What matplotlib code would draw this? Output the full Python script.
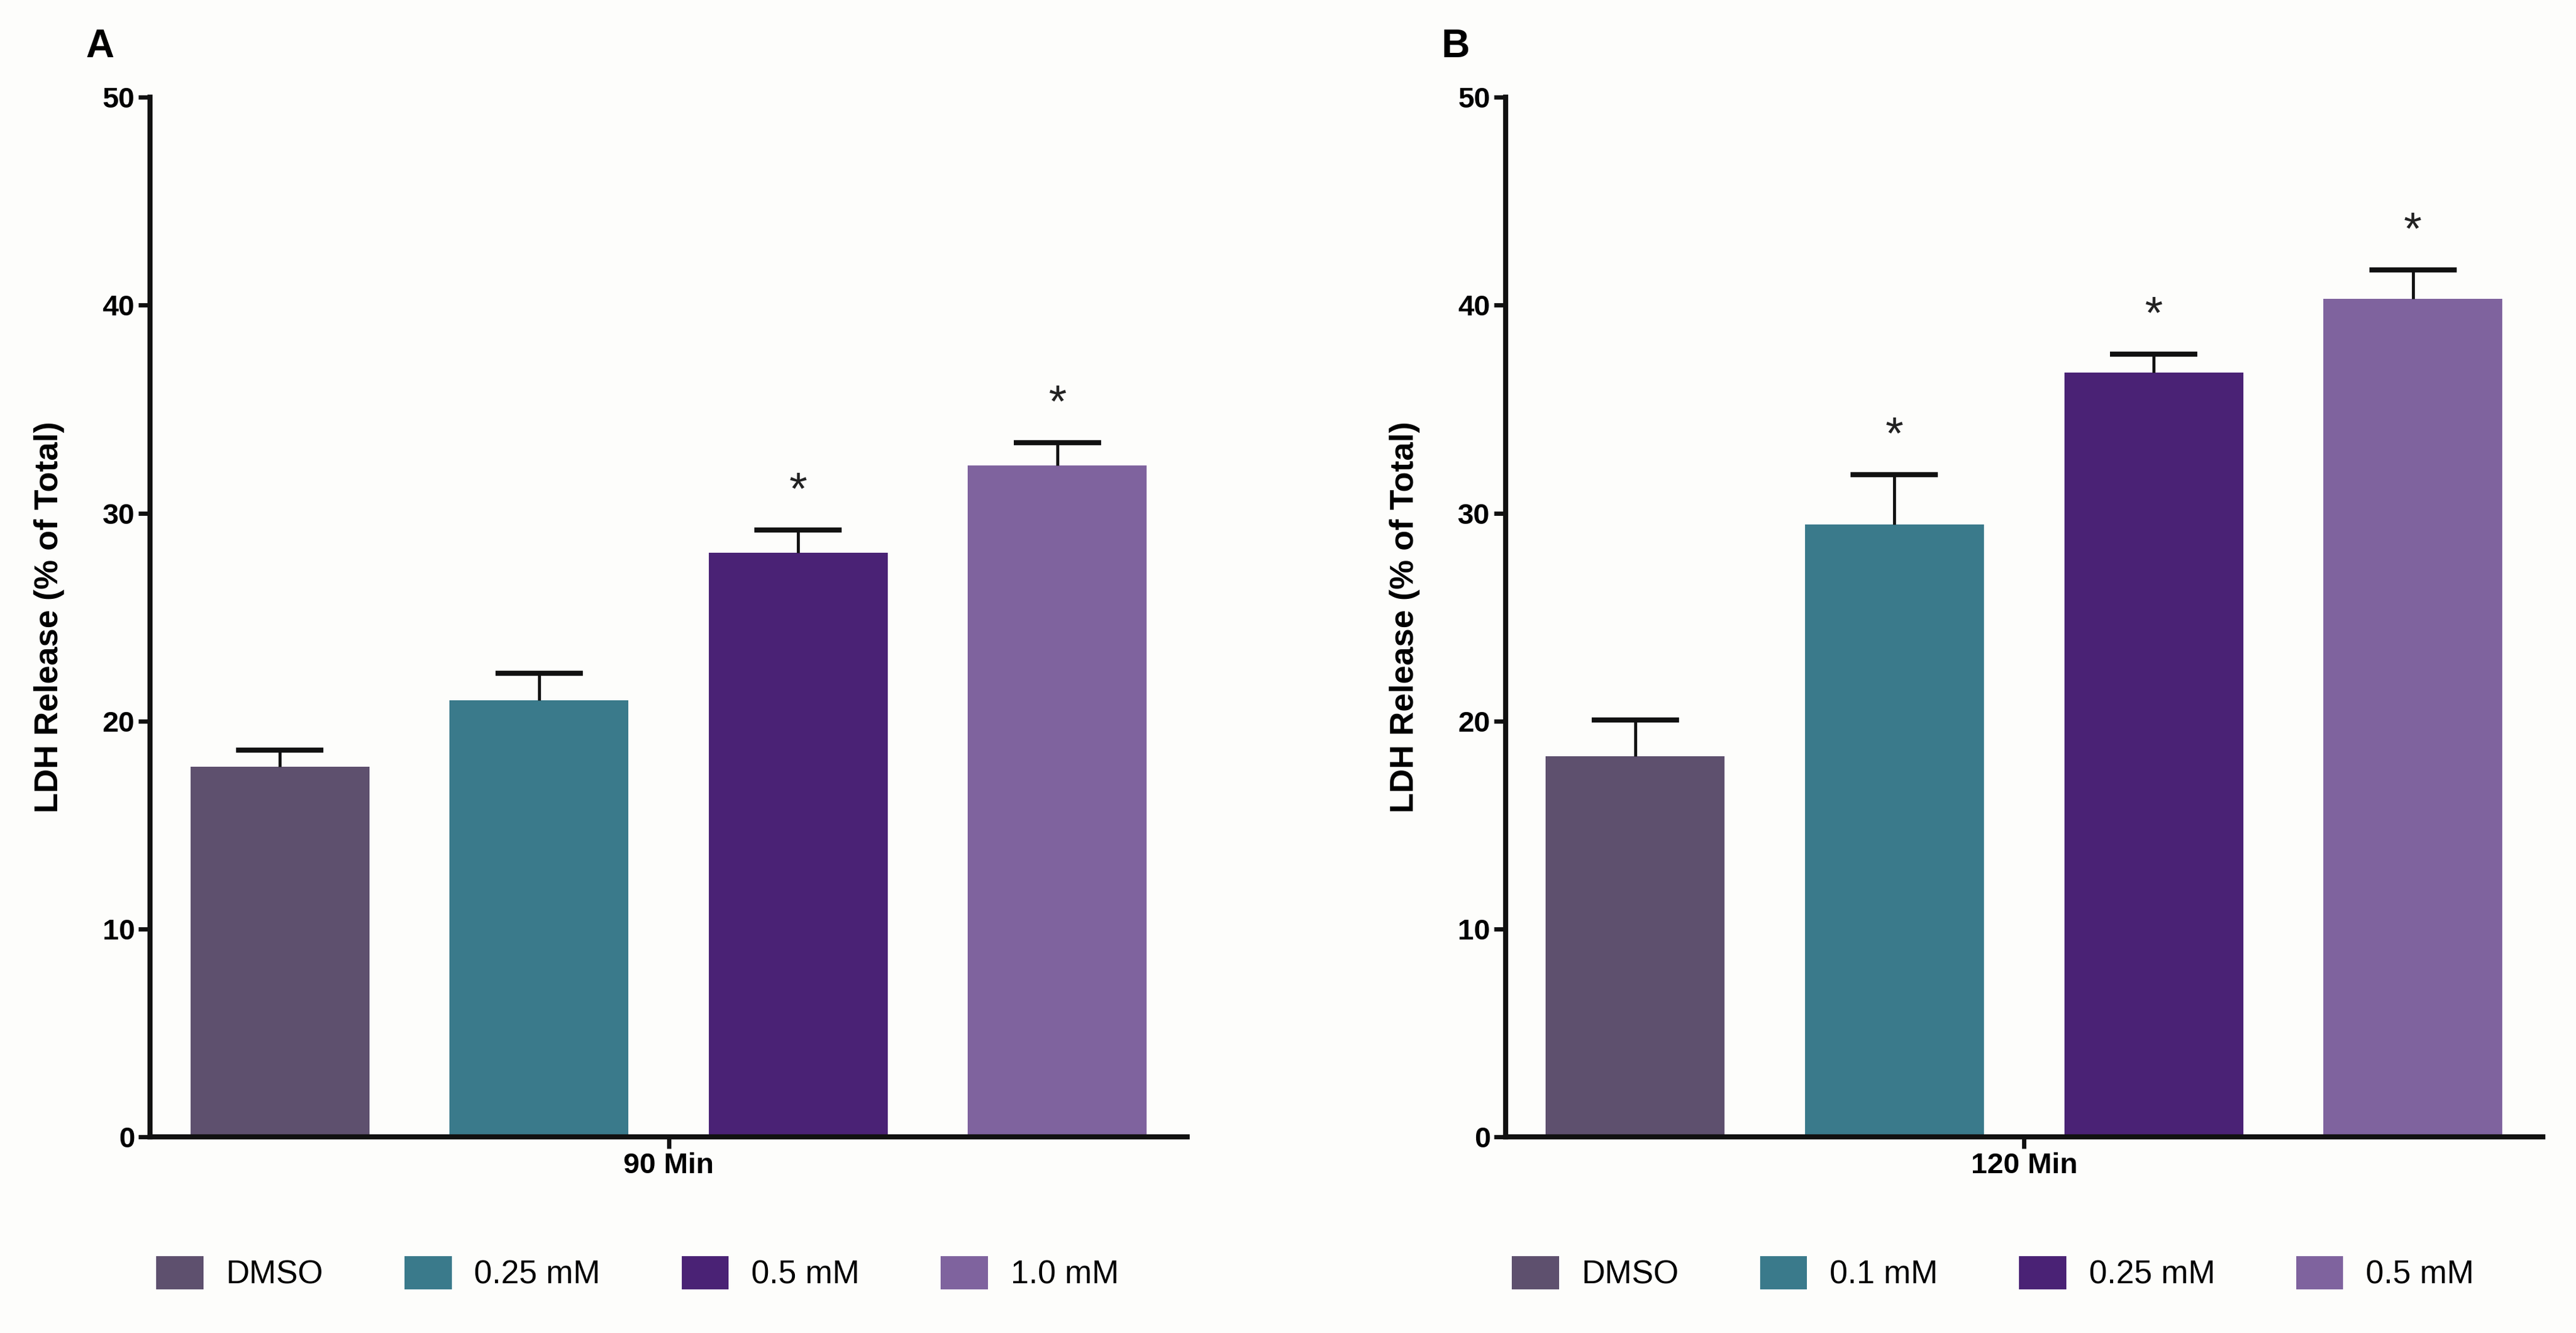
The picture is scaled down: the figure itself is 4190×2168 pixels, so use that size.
import matplotlib.pyplot as plt
import numpy as np

plt.rcParams['font.family'] = ['Liberation Sans Narrow', 'Liberation Sans', 'DejaVu Sans']

# --- Data ---
labels_a = ['DMSO', '0.25 mM', '0.5 mM', '1.0 mM']
means_a = [17.8, 21.0, 28.1, 32.3]
errs_a = [0.8, 1.3, 1.1, 1.1]
stars_a = [False, False, True, True]

labels_b = ['DMSO', '0.1 mM', '0.25 mM', '0.5 mM']
means_b = [18.3, 29.45, 36.75, 40.3]
errs_b = [1.75, 2.4, 0.9, 1.4]
stars_b = [False, True, True, True]

colors = ['#5e506e', '#3a7a8b', '#4a2275', '#7f639e']
yticks = [0, 10, 20, 30, 40, 50]

fig = plt.figure(figsize=(41.9, 21.68), dpi=100)
fig.patch.set_facecolor('#fdfdfb')


def panel(left, letter, time_label, labels, means, errs, stars):
    ax = fig.add_axes([left, 0.147, 0.4025, 0.780])
    ax.set_facecolor('#fdfdfb')
    x = np.arange(len(means))
    bars = ax.bar(x, means, width=0.69, color=colors, edgecolor='none', zorder=2)
    # upper error bars only, cap on top
    eb = ax.errorbar(x, means, yerr=[np.zeros(len(errs)), errs], fmt='none',
                     ecolor='#111111', elinewidth=3.5, capsize=51, capthick=6, zorder=3)
    caps = eb[1]
    if len(caps) > 1:
        caps[0].set_visible(False)
    for xi, m, e, s in zip(x, means, errs, stars):
        if s:
            ax.text(xi, m + e + 0.8, '*', ha='center', va='bottom',
                    fontsize=54, color='#222222')
    ax.set_xlim(-0.5, 3.5)
    ax.set_ylim(0, 50)
    ax.set_yticks(yticks)
    ax.set_xticks([1.5])
    ax.set_xticklabels([time_label])
    for side in ['top', 'right']:
        ax.spines[side].set_visible(False)
    for side in ['left', 'bottom']:
        ax.spines[side].set_linewidth(6)
        ax.spines[side].set_color('#111111')
    ax.tick_params(axis='both', direction='out', length=14, width=5,
                   labelsize=34, pad=4, color='#111111')
    for t in ax.get_xticklabels() + ax.get_yticklabels():
        t.set_fontweight('bold')
    ax.set_ylabel('LDH Release (% of Total)', fontsize=39, fontweight='bold',
                  family=['Liberation Sans', 'DejaVu Sans'], labelpad=44)
    fig.text(left - 0.025, 0.965, letter, fontsize=46, fontweight='bold',
             ha='left', va='center', family=['Liberation Sans', 'DejaVu Sans'])
    ax.legend(bars, labels, loc='center', bbox_to_anchor=(0.47, -0.131), ncol=4,
              frameon=False, fontsize=38, handlelength=1.45, handleheight=1.2,
              columnspacing=2.5, handletextpad=0.7)
    return ax


panel(0.0583, 'A', '90 Min', labels_a, means_a, errs_a, stars_a)
panel(0.5845, 'B', '120 Min', labels_b, means_b, errs_b, stars_b)

fig.savefig('out.png', dpi=100, facecolor=fig.get_facecolor())
